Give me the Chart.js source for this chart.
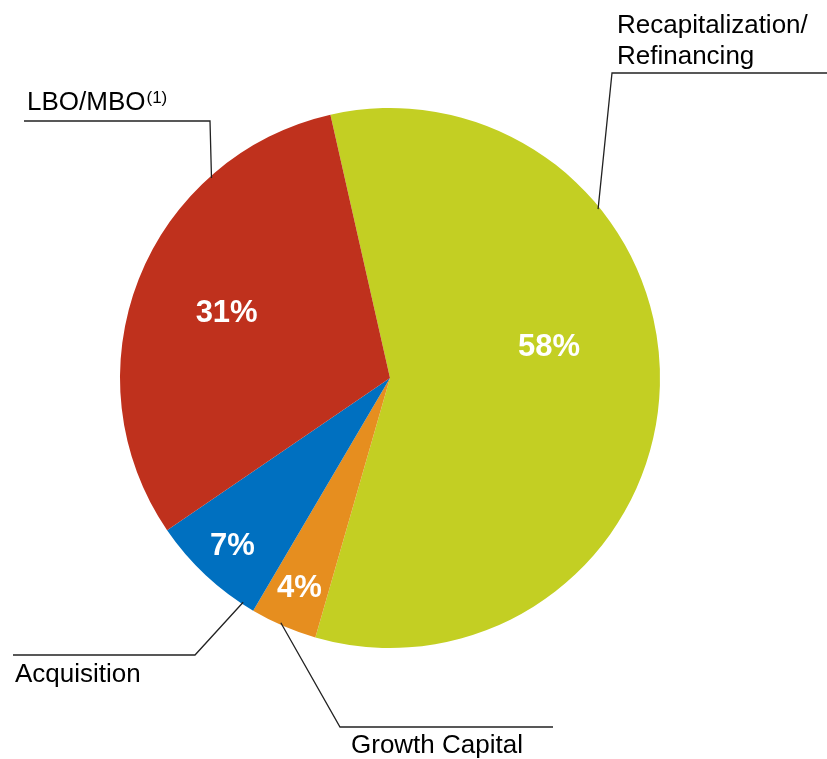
<!DOCTYPE html>
<html lang="en">
<head>
    <meta charset="UTF-8">
    <title>Use of proceeds</title>
    <script src="https://cdn.jsdelivr.net/npm/chart.js"></script>
    <style>
        html, body { margin: 0; padding: 0; background: #fff; }
        canvas { display: block; }
    </style>
</head>
<body>
    <canvas id="pie" width="827" height="759"></canvas>
<script>
    // data (order = clockwise from the top)
    const categories = ['Recapitalization/Refinancing', 'Growth Capital', 'Acquisition', 'LBO/MBO'];
    const shares = [58, 4, 7, 31];
    const colors = ['#C3CF23', '#E68E1F', '#0070C0', '#BF311D'];

    // where the percent label sits: radius fraction and angle tweak (deg)
    const labelRadius = [0.6, 0.85, 0.855, 0.65];
    const labelTurn = [-12.6, 0, 0, 0];

    // leader lines: point on the slice edge (fraction of the slice), elbow, end
    const leaders = [
        { frac: 0.305, elbow: [612, 73], end: [827, 73] },
        { frac: 0.555, elbow: [340, 727], end: [553, 727] },
        { frac: 0.11, elbow: [195, 655], end: [13, 655] },
        { frac: 0.74, elbow: [210, 121], end: [24, 121] }
    ];

    const FONT = '"Liberation Sans", Arial, sans-serif';

    const labelsPlugin = {
        id: 'sliceLabels',
        afterDatasetsDraw(chart) {
            const ctx = chart.ctx;
            const arcs = chart.getDatasetMeta(0).data;
            ctx.save();

            // leader lines
            ctx.strokeStyle = '#222';
            ctx.lineWidth = 1.3;
            arcs.forEach((arc, i) => {
                const p = arc.getProps(['x', 'y', 'startAngle', 'endAngle', 'outerRadius'], true);
                const a = p.startAngle + (p.endAngle - p.startAngle) * leaders[i].frac;
                const r = p.outerRadius - 2;
                ctx.beginPath();
                ctx.moveTo(p.x + Math.cos(a) * r, p.y + Math.sin(a) * r);
                ctx.lineTo(leaders[i].elbow[0], leaders[i].elbow[1]);
                ctx.lineTo(leaders[i].end[0], leaders[i].end[1]);
                ctx.stroke();
            });

            // percentages inside slices
            ctx.fillStyle = '#fff';
            ctx.font = 'bold 31px ' + FONT;
            ctx.textAlign = 'center';
            ctx.textBaseline = 'middle';
            arcs.forEach((arc, i) => {
                const p = arc.getProps(['x', 'y', 'startAngle', 'endAngle', 'outerRadius'], true);
                const a = (p.startAngle + p.endAngle) / 2 + labelTurn[i] * Math.PI / 180;
                const r = p.outerRadius * labelRadius[i];
                ctx.fillText(shares[i] + '%', p.x + Math.cos(a) * r, p.y + Math.sin(a) * r);
            });

            // category names
            ctx.fillStyle = '#000';
            ctx.font = '26px ' + FONT;
            ctx.textAlign = 'left';
            ctx.textBaseline = 'alphabetic';
            ctx.fillText('Recapitalization/', 617, 33);
            ctx.fillText('Refinancing', 617, 64);
            ctx.fillText(categories[1], 351, 753);
            ctx.fillText(categories[2], 15, 682);
            ctx.fillText(categories[3], 27, 110);
            const w = ctx.measureText(categories[3]).width;
            ctx.font = '17px ' + FONT;
            ctx.fillText('(1)', 27 + w + 1, 103);

            ctx.restore();
        }
    };

    new Chart(document.getElementById('pie'), {
        type: 'pie',
        data: {
            labels: categories,
            datasets: [{
                data: shares,
                backgroundColor: colors,
                borderWidth: 0
            }]
        },
        options: {
            responsive: false,
            animation: false,
            rotation: -12.75,
            layout: { padding: { left: 120, right: 167, top: 108, bottom: 111 } },
            plugins: {
                legend: { display: false },
                tooltip: { enabled: false }
            }
        },
        plugins: [labelsPlugin]
    });
</script>
</body>
</html>
